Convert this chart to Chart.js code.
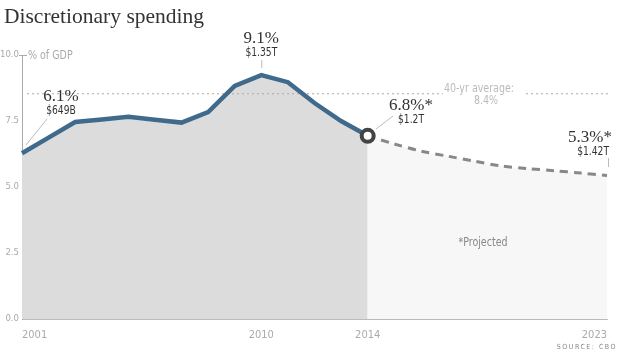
<!DOCTYPE html>
<html>
<head>
<meta charset="utf-8">
<script src="https://cdn.jsdelivr.net/npm/chart.js@4"></script>
<style>
  body { margin: 0; background: #fff; }
  #wrap { width: 620px; height: 353px; position: relative; }
</style>
</head>
<body>
<div id="wrap"><canvas id="spendChart"></canvas></div>
<script>
// Discretionary spending, % of GDP
const years = ["2001", "2002", "2003", "2004", "2005", "2006", "2007", "2008", "2009", "2010", "2011", "2012",
    "2013", "2014", "2015", "2016", "2017", "2018", "2019", "2020", "2021", "2022", "2023"];
const actualPct = [6.28, 6.87, 7.46, 7.56, 7.66, 7.55, 7.44, 7.84, 8.83, 9.24, 8.97, 8.18, 7.5, 6.94]; // 2001-2014
const projectedPct = [6.94, 6.63, 6.36, 6.17, 5.98, 5.8, 5.7, 5.62, 5.53, 5.44]; // 2014-2023
const avgPct = 8.55;
const xTickYears = ["2001", "2010", "2014", "2023"];
const yTicks = [0, 2.5, 5, 7.5, 10];

const serif = '"Liberation Serif", "DejaVu Serif", serif';
const narrow = '"Liberation Sans Narrow", "DejaVu Sans Condensed", "Roboto Condensed", Roboto, sans-serif';

const actualData = years.map((y, i) => i < actualPct.length ? actualPct[i] : null);
const projStart = actualPct.length - 1;
const projectedData = years.map((y, i) => i >= projStart ? projectedPct[i - projStart] : null);

// squeeze text horizontally, the original uses a condensed face
function narrowText(ctx, str, x, y, squeeze) {
    ctx.save();
    ctx.translate(x, y);
    ctx.scale(squeeze, 1);
    ctx.fillText(str, 0, 0);
    ctx.restore();
}

const overlay = {
    id: "overlay",
    beforeDatasetsDraw(chart) {
        const { ctx } = chart;
        const py = chart.scales.y.getPixelForValue(avgPct);
        ctx.save();
        ctx.strokeStyle = "#aaa";
        ctx.lineWidth = 1;
        ctx.setLineDash([2, 3]);
        ctx.beginPath();
        ctx.moveTo(27, py + 0.5); ctx.lineTo(443, py + 0.5);
        ctx.moveTo(526, py + 0.5); ctx.lineTo(608, py + 0.5);
        ctx.stroke();
        ctx.restore();
    },
    afterDraw(chart) {
        const { ctx } = chart;
        const x = chart.scales.x, y = chart.scales.y;
        ctx.save();

        ctx.fillStyle = "#333";
        ctx.font = "21.5px " + serif;
        ctx.textAlign = "left";
        ctx.textBaseline = "alphabetic";
        ctx.fillText("Discretionary spending", 4, 23);

        ctx.textBaseline = "middle";
        ctx.fillStyle = "#aaa";
        ctx.font = "12px " + narrow;
        narrowText(ctx, "% of GDP", 28, y.getPixelForValue(10) + 1, 0.88);

        // small tick at the top of the axis
        ctx.strokeStyle = "#aaa";
        ctx.lineWidth = 1;
        const t = Math.round(y.getPixelForValue(10)) + 0.5;
        ctx.beginPath(); ctx.moveTo(19, t); ctx.lineTo(27, t); ctx.stroke();

        // average label
        ctx.fillStyle = "#bbb";
        ctx.textAlign = "center";
        narrowText(ctx, "40-yr average:", 479, 89, 0.88);
        narrowText(ctx, "8.4%", 486, 101, 0.88);

        // connectors
        ctx.strokeStyle = "#bbb";
        ctx.beginPath();
        ctx.moveTo(26, 145); ctx.lineTo(47, 119);
        ctx.moveTo(x.getPixelForValue(9) + 0.5, 60); ctx.lineTo(x.getPixelForValue(9) + 0.5, 68);
        ctx.moveTo(376, 129); ctx.lineTo(393, 116);
        ctx.moveTo(608.5, 158); ctx.lineTo(608.5, 167);
        ctx.stroke();

        const notes = [
            ["6.1%", "$649B", 61, 97, "center"],
            ["9.1%", "$1.35T", x.getPixelForValue(9), 39, "center"],
            ["6.8%*", "$1.2T", 411, 106, "center"],
            ["5.3%*", "$1.42T", 612, 138, "right"]
        ];
        notes.forEach(([big, small, nx, ny, al]) => {
            ctx.textAlign = al;
            ctx.fillStyle = "#333";
            ctx.font = "17px " + serif;
            ctx.fillText(big, nx, ny);
            ctx.font = "12px " + narrow;
            narrowText(ctx, small, al === "right" ? nx - 3 : nx, ny + 14, 0.85);
        });

        ctx.fillStyle = "#888";
        ctx.font = "12px " + narrow;
        ctx.textAlign = "center";
        narrowText(ctx, "*Projected", 483, 243, 0.88);

        ctx.font = "7px " + narrow;
        ctx.letterSpacing = "1.5px";
        ctx.textAlign = "right";
        ctx.fillText("SOURCE: CBO", 617, 347);
        ctx.restore();
    }
};

new Chart(document.getElementById("spendChart"), {
    type: "line",
    data: {
        labels: years,
        datasets: [{
            label: "Actual",
            data: actualData,
            borderColor: "#3f6a8c",
            borderWidth: 4.5,
            backgroundColor: "#dcdcdc",
            fill: "origin",
            tension: 0,
            pointRadius: (c) => c.dataIndex === projStart ? 6 : 0,
            pointHoverRadius: 0,
            pointBorderColor: "#444",
            pointBorderWidth: 4,
            pointBackgroundColor: "#fff"
        }, {
            label: "Projected",
            data: projectedData,
            borderColor: "#888",
            borderWidth: 3,
            borderDash: [8, 6],
            backgroundColor: "#f7f7f7",
            fill: "origin",
            tension: 0.3,
            pointRadius: 0
        }]
    },
    options: {
        responsive: true,
        maintainAspectRatio: false,
        animation: false,
        layout: { padding: { top: 55, right: 13, left: 0, bottom: 0 } },
        scales: {
            x: {
                grid: { display: false, drawTicks: false },
                border: { color: "#bbb" },
                ticks: {
                    autoSkip: false,
                    maxRotation: 0,
                    align: "inner",
                    padding: 10,
                    color: "#aaa",
                    font: { family: narrow, size: 11 },
                    callback: (v, i) => xTickYears.includes(years[i]) ? years[i] : ""
                },
                afterFit: (s) => { s.height = 34; }
            },
            y: {
                min: 0,
                max: 10,
                grid: { display: false, drawTicks: false },
                border: { color: "#aaa" },
                afterBuildTicks: (s) => { s.ticks = yTicks.map(v => ({ value: v })); },
                ticks: {
                    padding: 3,
                    color: "#aaa",
                    font: { family: narrow, size: 9.5 },
                    callback: (v) => v.toFixed(1)
                },
                afterFit: (s) => { s.width = 22; }
            }
        },
        plugins: {
            legend: { display: false },
            tooltip: { enabled: false },
            filler: { drawTime: "beforeDatasetsDraw" }
        }
    },
    plugins: [overlay]
});
</script>
</body>
</html>
